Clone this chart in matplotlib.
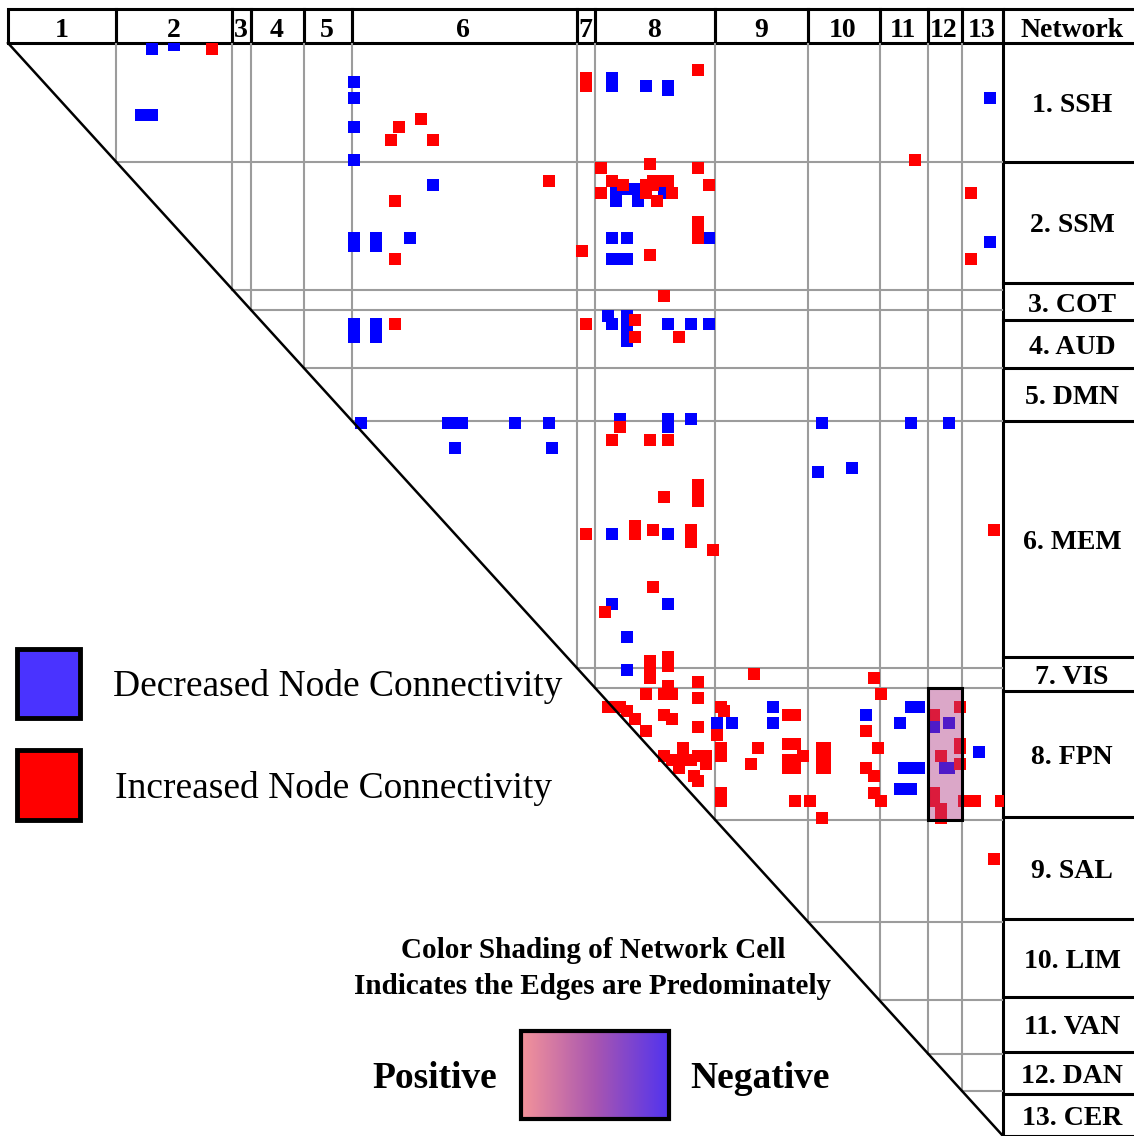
import numpy as np
import matplotlib.pyplot as plt
from matplotlib.patches import Rectangle
from matplotlib.colors import LinearSegmentedColormap

plt.rcParams['font.family'] = 'Liberation Serif'

networks = ['SSH', 'SSM', 'COT', 'AUD', 'DMN', 'MEM', 'VIS',
            'FPN', 'SAL', 'LIM', 'VAN', 'DAN', 'CER']
net_sizes = [29, 31, 5, 14, 13, 60, 5, 32, 25, 19, 13, 9, 11]

# significant edges as (row node, column node), upper triangle only
decreased = [
    (1, 38), (0, 44), (17, 35), (17, 38),
    (9, 92), (13, 92), (20, 92), (28, 92), (34, 113),
    (47, 92), (49, 92), (47, 98), (49, 98), (47, 107),
    (8, 161), (10, 161), (10, 170), (10, 176), (11, 176),
    (35, 162), (35, 164), (35, 167), (38, 162), (38, 168), (36, 175),
    (47, 187), (47, 161), (47, 165), (52, 161), (52, 163), (52, 165),
    (13, 262), (48, 262),
    (68, 92), (69, 92), (71, 92), (68, 98), (69, 98), (71, 98),
    (66, 160), (68, 161), (66, 165), (68, 165), (70, 165), (72, 165),
    (68, 176), (68, 182), (68, 187),
    (92, 94), (92, 117), (92, 119), (92, 121), (98, 119), (92, 135),
    (92, 144), (98, 145),
    (91, 163), (91, 176), (93, 176), (91, 182),
    (92, 217), (92, 241), (92, 251), (104, 216), (103, 225),
    (119, 161), (119, 176), (136, 161), (136, 176), (144, 165), (152, 165),
    (165, 189), (165, 193), (161, 204), (165, 204),
    (163, 229), (161, 241), (161, 243), (165, 238),
    (176, 239), (176, 241), (176, 243), (181, 238), (181, 241),
    (166, 247), (165, 251), (176, 250), (176, 251), (172, 259),
]
increased = [
    (1, 54),
    (20, 104), (23, 102), (18, 110), (23, 113),
    (38, 103), (33, 144), (52, 103),
    (8, 154), (10, 154), (50, 153), (6, 184),
    (30, 158), (36, 158), (33, 161), (34, 164), (29, 171), (34, 170),
    (34, 172), (33, 172), (33, 174), (33, 176), (36, 170), (36, 177),
    (38, 173), (30, 184), (34, 187),
    (43, 184), (45, 184), (47, 184), (51, 171),
    (61, 175), (28, 242), (36, 257), (52, 257),
    (68, 103), (68, 154), (67, 167), (71, 167), (71, 179),
    (93, 163), (96, 161), (96, 171), (96, 176),
    (110, 175), (107, 184), (109, 184), (111, 184),
    (119, 154), (117, 167), (119, 167), (118, 172),
    (118, 182), (120, 182), (121, 182), (123, 188), (118, 263),
    (132, 172), (138, 159),
    (150, 171), (152, 171), (154, 171), (149, 176), (151, 176),
    (155, 184), (153, 199), (154, 231), (158, 233),
    (158, 170), (158, 175), (158, 177), (156, 176), (159, 184),
    (161, 160), (161, 163), (162, 165), (164, 167), (167, 170), (163, 175),
    (164, 177), (166, 184),
    (161, 190), (162, 191), (168, 189), (171, 190), (173, 190),
    (163, 208), (163, 210), (171, 200), (175, 198),
    (170, 208), (170, 210), (173, 212), (174, 208), (174, 210),
    (176, 208), (176, 210),
    (182, 190), (184, 190), (184, 210), (184, 214), (188, 217),
    (171, 217), (171, 218), (174, 217), (174, 218), (176, 217), (176, 218),
    (167, 229), (171, 232), (176, 229), (178, 231), (182, 231), (184, 233),
    (163, 247), (161, 254), (173, 249), (170, 254), (171, 254), (175, 254),
    (182, 247), (184, 247), (186, 249), (188, 249),
    (184, 255), (184, 256), (184, 258), (184, 265), (198, 263),
    (171, 180), (173, 175), (174, 177), (173, 180), (174, 182),
    (173, 184), (173, 186), (175, 186), (176, 179), (178, 183), (179, 184),
]

# network blocks whose edges are predominately positive / negative
shaded_blocks = [('FPN', 'DAN')]

label_edges = [43, 162, 283, 320, 368, 421, 657, 691, 817, 919, 997, 1052, 1094, 1136]

W, H = 1134, 1136
fig = plt.figure(figsize=(W / 100, H / 100), dpi=100)
base = fig.add_axes([0, 0, 1, 1])
base.set_xlim(0, W)
base.set_ylim(H, 0)
base.axis('off')

# matrix panel
x0, x1, y0, y1 = 8, 1003, 43, 1136
N = sum(net_sizes)
bounds = np.concatenate([[0], np.cumsum(net_sizes)])
ax = fig.add_axes([x0 / W, 1 - y1 / H, (x1 - x0) / W, (y1 - y0) / H])
ax.set_xlim(0, N)
ax.set_ylim(N, 0)
ax.axis('off')

grid_c = '#9c9c9c'
for e in bounds[1:-1]:
    ax.plot([e, N], [e, e], color=grid_c, lw=1.5, zorder=1)
    ax.plot([e, e], [0, e], color=grid_c, lw=1.5, zorder=1)

dec = np.array(decreased)
inc = np.array(increased)
ax.scatter(dec[:, 1] + 0.5, dec[:, 0] + 0.5, marker='s', s=66,
           color='#0000ff', linewidths=0, zorder=2)
ax.scatter(inc[:, 1] + 0.5, inc[:, 0] + 0.5, marker='s', s=66,
           color='#ff0000', linewidths=0, zorder=2)

for rn, cn in shaded_blocks:
    r, c = networks.index(rn), networks.index(cn)
    ax.add_patch(Rectangle((bounds[c], bounds[r]), net_sizes[c], net_sizes[r],
                           facecolor='#b03c86', alpha=0.45, edgecolor='none', zorder=3))
    ax.add_patch(Rectangle((bounds[c], bounds[r]), net_sizes[c], net_sizes[r],
                           fill=False, edgecolor='k', lw=2.2, zorder=4))

ax.plot([0, N], [0, N], color='k', lw=1.8, clip_on=False, zorder=5)

# header row with network numbers
col_px = x0 + bounds * (x1 - x0) / N
for k in range(len(networks)):
    base.add_patch(Rectangle((col_px[k], 9), col_px[k + 1] - col_px[k], 34,
                             fill=False, edgecolor='k', lw=2.2))
    base.text((col_px[k] + col_px[k + 1]) / 2 - 1, 37, str(k + 1), ha='center',
              va='baseline', fontsize=20, fontweight='bold')
base.add_patch(Rectangle((x1, 9), W - x1 + 5, 34, fill=False, edgecolor='k', lw=2.2))
base.text(1072, 37, 'Network', ha='center', va='baseline',
          fontsize=20, fontweight='bold')

# network name column
base.plot([x1, x1], [43, H], color='k', lw=2.2)
for k, name in enumerate(networks):
    base.plot([x1, W], [label_edges[k + 1]] * 2, color='k', lw=2.2)
    mid = (label_edges[k] + label_edges[k + 1]) / 2
    base.text(1072, mid + 10, f'{k + 1}. {name}', ha='center',
              va='baseline', fontsize=20, fontweight='bold')

# node legend
base.add_patch(Rectangle((17, 649), 63, 69, facecolor='#4a33ff', edgecolor='k', lw=3.5))
base.add_patch(Rectangle((17, 750), 63, 70, facecolor='#ff0000', edgecolor='k', lw=3.5))
base.text(113, 686, 'Decreased Node Connectivity', ha='left', va='center', fontsize=27)
base.text(115, 788, 'Increased Node Connectivity', ha='left', va='center', fontsize=27)

# shading legend
base.text(593, 951, 'Color Shading of Network Cell', ha='center', va='center',
          fontsize=21, fontweight='bold')
base.text(593, 986, 'Indicates the Edges are Predominately', ha='center', va='center',
          fontsize=21, fontweight='bold')
shade_cmap = LinearSegmentedColormap.from_list('shade', ['#f4949a', '#a956b0', '#5133ef'])
base.imshow(np.linspace(0, 1, 256)[None, :], cmap=shade_cmap, aspect='auto',
            extent=(521, 669, 1119, 1031), zorder=2)
base.add_patch(Rectangle((521, 1031), 148, 88, fill=False, edgecolor='k', lw=3, zorder=3))
base.text(497, 1078, 'Positive', ha='right', va='center', fontsize=27, fontweight='bold')
base.text(690, 1078, 'Negative', ha='left', va='center', fontsize=27, fontweight='bold')
base.set_xlim(0, W)
base.set_ylim(H, 0)

fig.savefig('out.png', dpi=100)
